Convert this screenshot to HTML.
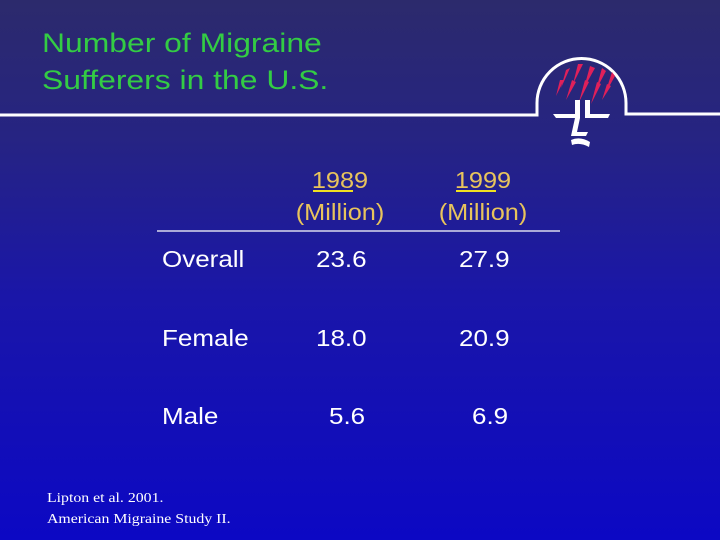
<!DOCTYPE html>
<html><head><meta charset="utf-8"><style>
html,body{margin:0;padding:0}
body{width:720px;height:540px;overflow:hidden;position:relative;background:linear-gradient(#2c2a6c 0%,#262482 25%,#1a16a8 55%,#0c08c4 100%);font-family:"Liberation Sans",sans-serif}
.t{position:absolute;white-space:nowrap;transform-origin:0 0}
.title{left:42px;top:25px;color:#33cc44;font-size:27px;line-height:37px;transform:scaleX(1.18)}
.hd{color:#e8c45c;font-size:23px;line-height:32px;text-align:center;width:140px;transform-origin:50% 0;transform:scaleX(1.1)}
.cell{color:#fff;font-size:23px;transform:scaleX(1.13)}
.ref{font-family:"Liberation Serif",serif;font-size:14px;color:#fff;line-height:21px;left:47px;top:488px;transform:scaleX(1.13)}
</style></head><body>
<div class="t title">Number of Migraine<br>Sufferers in the U.S.</div>
<svg width="720" height="540" style="position:absolute;left:0;top:0">
<path d="M0 115 H537 V103 A44 44 0 0 1 626 103 V114 H720" fill="none" stroke="#fff" stroke-width="3"/>
<g fill="#e0205a">
<polygon points="566,70 570,68 561,88"/><polygon points="578,64 583,64 573,84"/><polygon points="590,66 595,68 584,88"/><polygon points="602,68 606,71 596,90"/><polygon points="612,72 615,76 605,94"/><polygon points="560,80 564,80 556,96"/><polygon points="572,80 576,82 566,100"/><polygon points="585,80 589,82 579,102"/><polygon points="597,82 601,84 591,104"/><polygon points="607,84 611,86 602,100"/>
</g>
<g fill="#fff">
<path d="M553 114 H575 V100 H580 V118 H556 Z"/><path d="M585 100 H590 V114 H610 L608 118 H585 Z"/>
<path d="M575 118 H580 L577 132 H588 L586 136 H571 Z"/>
<path d="M571 140 Q580 136 590 142 L589 147 Q580 142 572 145 Z"/>
</g>
<line x1="157" y1="231" x2="560" y2="231" stroke="#fff" stroke-width="1.3"/>
<line x1="313" y1="191" x2="353" y2="191" stroke="#f0e020" stroke-width="2"/>
<line x1="456" y1="191" x2="496" y2="191" stroke="#f0e020" stroke-width="2"/>
</svg>
<div class="t hd" style="left:270px;top:164px">1989<br>(Million)</div>
<div class="t hd" style="left:413px;top:164px">1999<br>(Million)</div>
<div class="t cell" style="left:162px;top:246px">Overall</div>
<div class="t cell" style="left:316px;top:246px">23.6</div>
<div class="t cell" style="left:459px;top:246px">27.9</div>
<div class="t cell" style="left:162px;top:325px">Female</div>
<div class="t cell" style="left:316px;top:325px">18.0</div>
<div class="t cell" style="left:459px;top:325px">20.9</div>
<div class="t cell" style="left:162px;top:403px">Male</div>
<div class="t cell" style="left:329px;top:403px">5.6</div>
<div class="t cell" style="left:472px;top:403px">6.9</div>
<div class="t ref">Lipton et al. 2001.<br>American Migraine Study II.</div>
</body></html>
